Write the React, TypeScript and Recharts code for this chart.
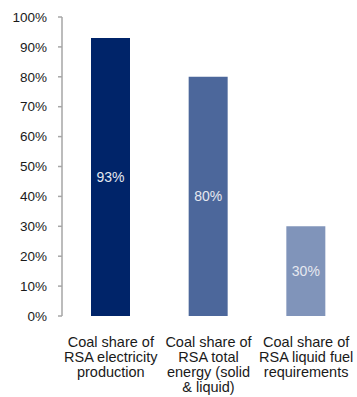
import { BarChart, Bar, XAxis, YAxis, Cell, LabelList } from 'recharts';

const categories = [
  'Coal share of\nRSA electricity\nproduction',
  'Coal share of\nRSA total\nenergy (solid\n& liquid)',
  'Coal share of\nRSA liquid fuel\nrequirements',
];
const shares = [93, 80, 30];
const barColors = ['#002469', '#4c679b', '#8094ba'];
const yTicks = [0, 10, 20, 30, 40, 50, 60, 70, 80, 90, 100];
const edgeTicks = [0, 1, 2, 3];

const data = categories.map((name, i) => ({ name, share: shares[i] }));

const FONT = '"Liberation Sans", Arial, sans-serif';
const AXIS = '#a6a6a6';

function CategoryTick({ x, y, payload }: any) {
  const lines = String(payload.value).split('\n');
  return (
    <text x={x} y={y} textAnchor="middle" fontFamily={FONT} fontSize={14.5} fill="#1a1a1a">
      {lines.map((line, i) => (
        <tspan key={i} x={x} dy={i === 0 ? 23 : 15}>
          {line}
        </tspan>
      ))}
    </text>
  );
}

export default function App() {
  return (
    <div style={{ position: 'absolute', left: 0, top: 0, width: 357, height: 397, background: '#fff' }}>
      <BarChart width={357} height={397} data={data} margin={{ top: 17, right: 2, bottom: 0, left: 0 }}>
        {/* boundary ticks between categories */}
        <XAxis
          xAxisId="edge"
          type="number"
          domain={[0, 3]}
          ticks={edgeTicks}
          height={0}
          axisLine={{ stroke: AXIS, strokeWidth: 1.5 }}
          tickLine={{ stroke: AXIS, strokeWidth: 1.5 }}
          tickSize={4}
          tick={() => <g />}
        />
        <XAxis
          xAxisId="cat"
          dataKey="name"
          height={81}
          axisLine={false}
          tickLine={false}
          interval={0}
          tick={<CategoryTick />}
        />
        <YAxis
          width={62}
          domain={[0, 100]}
          ticks={yTicks}
          interval={0}
          axisLine={{ stroke: AXIS, strokeWidth: 1.5 }}
          tickLine={{ stroke: AXIS, strokeWidth: 1.5 }}
          tickSize={4}
          tickMargin={11}
          tick={{ fontFamily: FONT, fontSize: 13.5, fill: '#1a1a1a' }}
          tickFormatter={(v) => `${v}%`}
        />
        <Bar xAxisId="cat" dataKey="share" barSize={39} isAnimationActive={false}>
          {data.map((_, i) => (
            <Cell key={i} fill={barColors[i]} />
          ))}
          <LabelList
            dataKey="share"
            position="center"
            formatter={(v: any) => `${v}%`}
            style={{ fontFamily: FONT, fontSize: 14, fill: '#e6e8f0' }}
          />
        </Bar>
      </BarChart>
    </div>
  );
}
